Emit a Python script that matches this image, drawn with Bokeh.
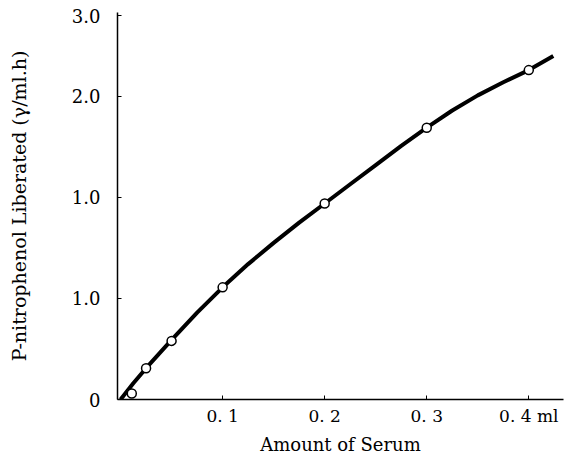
from bokeh.plotting import figure
from bokeh.models import FixedTicker, Range1d
from bokeh.embed import file_html
from bokeh.resources import INLINE

# Data (y in the chart's tick units: ticks evenly spaced)
serum_ml = [0.011, 0.025, 0.05, 0.1, 0.2, 0.3, 0.4]
liberated = [0.06, 0.31, 0.58, 1.11, 1.94, 2.69, 3.26]

# fitted curve
curve_x = [0, 0.0125, 0.025, 0.05, 0.075, 0.1, 0.125, 0.15, 0.175, 0.2, 0.225,
           0.25, 0.275, 0.3, 0.325, 0.35, 0.375, 0.4, 0.424]
curve_y = [0, 0.16, 0.31, 0.59, 0.86, 1.11, 1.34, 1.55, 1.75, 1.94, 2.13,
           2.32, 2.51, 2.69, 2.86, 3.01, 3.14, 3.26, 3.40]

x_ticks = [0.1, 0.2, 0.3, 0.4]
x_tick_labels = ["0. 1", "0. 2", "0. 3", "0. 4 ml"]
y_ticks = [0, 1, 2, 3, 3.8]
y_tick_labels = ["0", "1.0", "1.0", "2.0", "3.0"]

FONT = "DejaVu Serif"

p = figure(width=578, height=469, output_backend="svg", toolbar_location=None,
           x_range=Range1d(-0.003, 0.434), y_range=Range1d(0, 3.83),
           min_border_left=117, min_border_right=15, min_border_top=12,
           min_border_bottom=70)
p.grid.visible = False
p.outline_line_color = None
p.background_fill_color = "white"
p.border_fill_color = "white"

xa = p.xaxis[0]
ya = p.yaxis[0]
for ax in (xa, ya):
    ax.axis_line_color = "black"
    ax.axis_line_width = 1.5
    ax.major_tick_in = 4
    ax.major_tick_out = 0
    ax.major_tick_line_color = "black"
    ax.minor_tick_line_color = None
    ax.major_label_text_font = FONT
    ax.major_label_text_color = "black"
    ax.axis_label_text_font = FONT
    ax.axis_label_text_font_style = "normal"
    ax.axis_label_text_color = "black"

xa.ticker = FixedTicker(ticks=x_ticks)
xa.major_label_overrides = dict(zip(x_ticks, x_tick_labels))
xa.axis_label = "Amount of Serum"
xa.axis_label_text_font_size = "18px"
xa.major_label_text_font_size = "17px"
xa.major_label_standoff = 6
xa.axis_label_standoff = 5

ya.ticker = FixedTicker(ticks=y_ticks)
ya.major_label_overrides = dict(zip(y_ticks, y_tick_labels))
ya.axis_label = "P-nitrophenol Liberated (\u03b3/ml.h)"
ya.axis_label_text_font_size = "19px"
ya.major_label_text_font_size = "18px"
ya.major_label_standoff = 17
ya.axis_label_standoff = 39

p.line(curve_x, curve_y, line_color="black", line_width=4, line_join="round")
p.scatter(serum_ml, liberated, marker="circle", size=9, fill_color="white",
          line_color="black", line_width=1.5)

open("out.html", "w").write(file_html(p, INLINE))
